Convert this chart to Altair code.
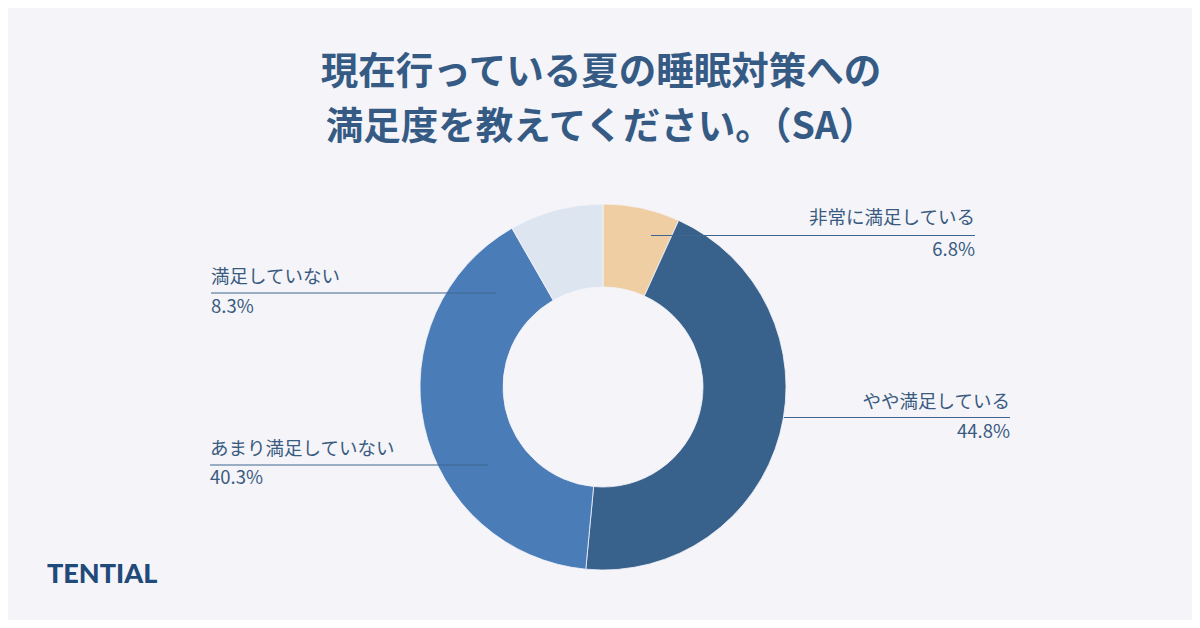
import altair as alt
import pandas as pd

# ---- data ----
categories = ["非常に満足している", "やや満足している", "あまり満足していない", "満足していない"]
values = [6.8, 44.8, 40.3, 8.3]
pct_labels = ["6.8%", "44.8%", "40.3%", "8.3%"]
title_lines = ["現在行っている夏の睡眠対策への", "満足度を教えてください。（SA）"]
brand = "TENTIAL"

# ---- style / layout (chart pixel coords = page coords - 8) ----
colors = ["#f0cea4", "#38618c", "#4a7cb8", "#dde5f1"]
BG = "#f4f4f9"
TXT = "#3a5b80"
LINE = "#3f6690"
OFF = 8
cx, cy = 603 - OFF, 387 - OFF
label_side = ["right", "right", "left", "left"]
label_x = [975, 1010, 210, 211]
name_y = [218, 402, 449, 277]
pct_y = [250, 432, 478, 307]
line_x1 = [651, 784, 210, 211]
line_x2 = [975, 1010, 488, 496]
line_y = [235.5, 417.5, 465, 293]

df = pd.DataFrame({
    "category": categories,
    "value": values,
    "order": list(range(len(categories))),
})

lab = pd.DataFrame({
    "category": categories,
    "pct": pct_labels,
    "side": label_side,
    "lx": [v - OFF for v in label_x],
    "ny": [v - OFF for v in name_y],
    "py": [v - OFF for v in pct_y],
    "x1": [v - OFF for v in line_x1],
    "x2": [v - OFF for v in line_x2],
    "ly": [v - OFF for v in line_y],
})

arcs = alt.Chart(df).mark_arc(innerRadius=100, outerRadius=183, stroke=BG, strokeWidth=0.8).encode(
    theta=alt.Theta("value:Q", stack=True),
    order=alt.Order("order:Q"),
    color=alt.Color("category:N", scale=alt.Scale(domain=categories, range=colors), legend=None),
    x=alt.value(cx),
    y=alt.value(cy),
)

base = alt.Chart(lab)
rules = base.mark_rule(color=LINE, strokeWidth=1).encode(
    x=alt.X("x1:Q", scale=None, axis=None),
    x2="x2:Q",
    y=alt.Y("ly:Q", scale=None, axis=None),
)

def side_text(side):
    b = base.transform_filter(alt.datum.side == side)
    n = b.mark_text(align=side, baseline="middle", font="Noto Sans CJK JP", fontSize=18.5,
                    color=TXT).encode(
        x=alt.X("lx:Q", scale=None, axis=None),
        y=alt.Y("ny:Q", scale=None, axis=None),
        text="category:N",
    )
    p = b.mark_text(align=side, baseline="middle", font="Noto Sans CJK JP", fontSize=18.5,
                    color=TXT).encode(
        x=alt.X("lx:Q", scale=None, axis=None),
        y=alt.Y("py:Q", scale=None, axis=None),
        text="pct:N",
    )
    return n + p

tdf = pd.DataFrame({"t": title_lines, "y": [73 - OFF, 128 - OFF]})
title = alt.Chart(tdf).mark_text(align="center", baseline="middle", font="Noto Sans CJK JP",
                                 fontSize=37.5, fontWeight="bold", color="#355b85").encode(
    x=alt.value(601 - OFF),
    y=alt.Y("y:Q", scale=None, axis=None),
    text="t:N",
)

bdf = pd.DataFrame({"t": [brand]})
logo = alt.Chart(bdf).mark_text(align="left", baseline="middle", font="Lato", fontSize=27,
                                fontWeight=900, color="#1f4a7a").encode(
    x=alt.value(47 - OFF),
    y=alt.value(575 - OFF),
    text="t:N",
)

chart = alt.layer(arcs, rules, side_text("right"), side_text("left"), title, logo).properties(
    width=1184, height=612, autosize=alt.AutoSizeParams(type="none"), padding=0,
    background=BG,
).configure_view(stroke=None)

chart.save("out.html", embed_options={"renderer": "svg", "actions": False})
